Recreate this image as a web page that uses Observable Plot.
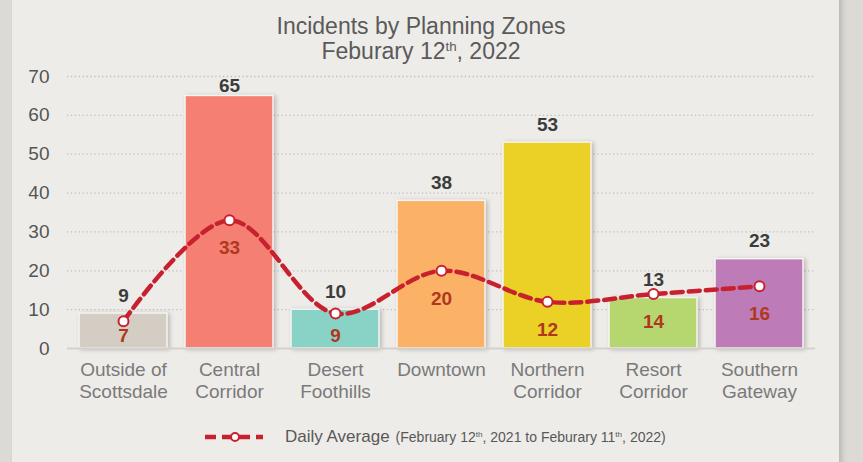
<!DOCTYPE html>
<html><head><meta charset="utf-8">
<script src="https://cdn.jsdelivr.net/npm/d3@7"></script>
<script src="https://cdn.jsdelivr.net/npm/@observablehq/plot@0.6"></script>
<style>
html,body{margin:0;padding:0;}
body{width:863px;height:462px;background:#dcdad5;position:relative;overflow:hidden;font-family:"Liberation Sans",Arial,sans-serif;}
#card{position:absolute;left:12px;top:-14px;width:827px;height:500px;background:#eeece9;border-radius:16px;box-shadow:3px 0 5px rgba(0,0,0,0.16);}
#title{position:absolute;left:0;width:842px;top:14px;text-align:center;color:#5a5a5a;font-size:23px;line-height:25px;}
#title sup, #legend sup{font-size:0.58em;line-height:0;vertical-align:0;position:relative;top:-0.6em;}
#chart{position:absolute;left:0;top:60px;}
#chart g[aria-label="bar"] rect{filter:drop-shadow(2px 1px 2px rgba(0,0,0,0.22));}
#legend{position:absolute;left:203px;top:426px;height:22px;display:flex;align-items:center;color:#585858;white-space:nowrap;}
#legend .main{font-size:17px;margin-left:20px;}
#legend .sub{font-size:14px;margin-left:6px;}
</style></head>
<body>
<div id="card"></div>
<div id="title">Incidents by Planning Zones<br>Feburary 12<sup>th</sup>, 2022</div>
<div id="chart"></div>
<div id="legend">
  <svg width="62" height="14"><line x1="2" x2="60" y1="7" y2="7" stroke="#c8202e" stroke-width="4.5" stroke-dasharray="11,6"/><circle cx="32" cy="7" r="4" fill="#fff" stroke="#c8202e" stroke-width="2"/></svg>
  <span class="main">Daily Average</span><span class="sub">(February 12<sup>th</sup>, 2021 to Feburary 11<sup>th</sup>, 2022)</span>
</div>
<script>
const zones = ["Outside of\nScottsdale","Central\nCorridor","Desert\nFoothills","Downtown","Northern\nCorridor","Resort\nCorridor","Southern\nGateway"];
const incidents = [9, 65, 10, 38, 53, 13, 23];
const dailyAvg = [7, 33, 9, 20, 12, 14, 16];
const barColors = ["#d3cdc3","#f47f72","#89d2c6","#fbb266","#ebd025","#b6d76f","#bd7cb8"];
const yTicks = [0, 10, 20, 30, 40, 50, 60, 70];

const rows = zones.map((z, i) => ({zone: z, count: incidents[i], avg: dailyAvg[i], color: barColors[i]}));
const font = '"Liberation Sans", Arial, sans-serif';

const chart = Plot.plot({
  width: 863, height: 350,
  marginLeft: 67, marginRight: 48, marginTop: 16, marginBottom: 62,
  style: {background: "transparent", fontFamily: font, overflow: "visible"},
  x: {domain: zones, paddingInner: 0.168, paddingOuter: 0.08, label: null},
  y: {domain: [0, 70], label: null},
  marks: [
    Plot.ruleY(yTicks.filter(t => t > 0), {stroke: "#c2bfba", strokeWidth: 1.3, strokeDasharray: "1.3,2.6"}),
    Plot.barY(rows, {x: "zone", y: "count", fill: "color", stroke: "#f7f5f2", strokeWidth: 1.5}),
    Plot.ruleY([0], {stroke: "#d4d1cc", strokeWidth: 2}),
    Plot.line(rows, {x: "zone", y: "avg", curve: "catmull-rom", stroke: "#c8202e", strokeWidth: 4.5, strokeDasharray: "11,6"}),
    Plot.dot(rows, {x: "zone", y: "avg", r: 5, fill: "white", stroke: "#c8202e", strokeWidth: 2}),
    Plot.text(rows, {x: "zone", y: d => Math.min(d.count + 4.6, 67.7), text: d => String(d.count), fontWeight: "bold", fontSize: 19, fill: "#3c3c3c"}),
    Plot.text(rows, {x: "zone", y: d => Math.max(d.avg - 7.2, 3.3), text: d => String(d.avg), fontWeight: "bold", fontSize: 19, fill: "#b0381f"}),
    Plot.axisY({ticks: yTicks, tickSize: 0, tickPadding: 18, fontSize: 19, color: "#555", label: null}),
    Plot.axisX({tickSize: 0, tickPadding: 12, fontSize: 19, color: "#7a7a7a", lineHeight: 1.16, label: null})
  ]
});
document.getElementById("chart").appendChild(chart);
</script>
</body></html>
